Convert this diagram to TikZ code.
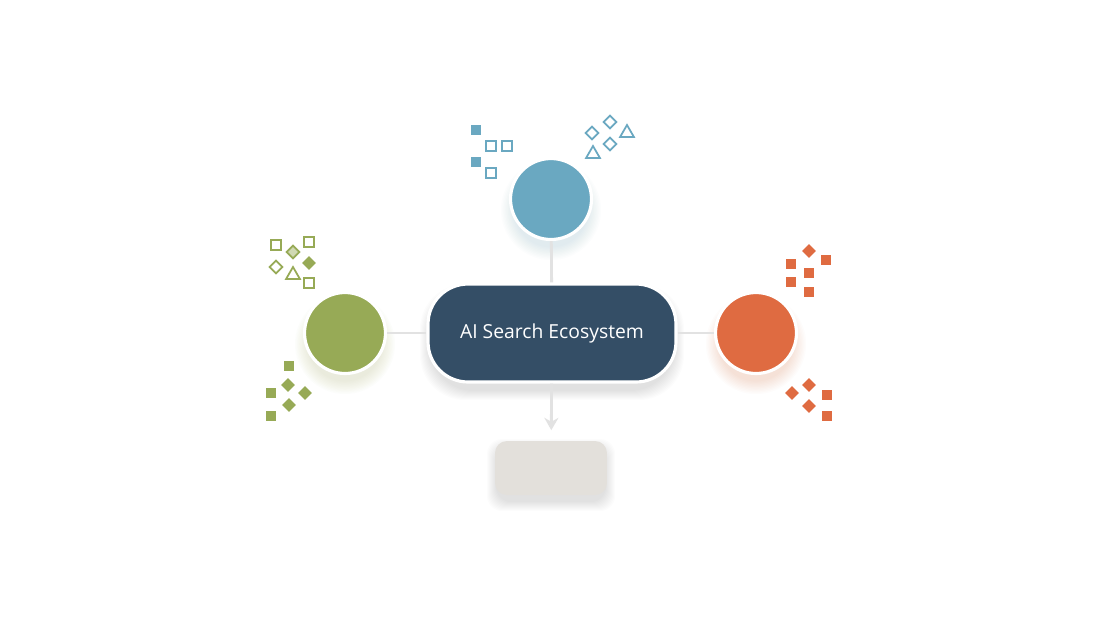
\documentclass[tikz,border=0pt]{standalone}
\usepackage{fontspec}
\newfontfamily\hubfont{Open Sans}
\usetikzlibrary{arrows.meta,shapes.geometric}
\definecolor{hubblue}{HTML}{344E66}
\definecolor{tealc}{HTML}{6AA8C1}
\definecolor{greenc}{HTML}{97AA56}
\definecolor{orangec}{HTML}{DF6B41}
\definecolor{stonec}{HTML}{E3E0DB}
\definecolor{linkc}{HTML}{E2E2E2}
\begin{document}
\begin{tikzpicture}[x=0.02cm,y=-0.02cm,
  hub/.style={draw=white,line width=1.8pt,fill=hubblue,rounded corners=0.8cm,minimum width=4.96cm,minimum height=1.96cm,text=white,font=\hubfont\fontsize{11}{13}\selectfont},
  topic/.style={circle,draw=white,line width=1.8pt,fill=#1,minimum size=1.62cm},
  outbox/.style={fill=stonec,rounded corners=0.24cm,minimum width=2.24cm,minimum height=1.08cm},
  link/.style={draw=linkc,line width=1.6pt},
  sqf/.style={rectangle,fill=#1,minimum size=0.2cm,inner sep=0pt},
  sqo/.style={rectangle,draw=#1,fill=white,line width=1pt,minimum size=0.2cm,inner sep=0pt},
  dmf/.style={diamond,fill=#1,minimum size=0.28cm,inner sep=0pt},
  dmo/.style={diamond,draw=#1,fill=white,line width=1pt,minimum size=0.27cm,inner sep=0pt},
  tro/.style={regular polygon,regular polygon sides=3,draw=#1,fill=white,line width=1pt,minimum size=0.32cm,inner sep=0pt}]
\fill[white] (0,0) rectangle (1102,630);
\useasboundingbox (0,0) rectangle (1102,630);
% soft shadows
\foreach \r in {1,...,10} {
  \fill[black,opacity=0.012,rounded corners=0.9cm] (430-\r,294-\r) rectangle (674+\r,390+\r);
  \fill[black,opacity=0.01,rounded corners=0.3cm] (497-\r,449-\r) rectangle (605+\r,501+\r);
  \fill[tealc,opacity=0.018] (551,210) circle[radius={36+1.4*\r}];
  \fill[greenc,opacity=0.018] (345,344) circle[radius={36+1.4*\r}];
  \fill[orangec,opacity=0.018] (756,344) circle[radius={36+1.4*\r}];
}
\node[hub] (hub) at (552,333) {AI Search Ecosystem};
\node[topic=tealc] (teal) at (551,199) {};
\node[topic=greenc] (green) at (345,333) {};
\node[topic=orangec] (orange) at (756,333) {};
\node[outbox] (out) at (551,468) {};
\draw[link] (teal) -- (hub);
\draw[link] (green) -- (hub);
\draw[link] (hub) -- (orange);
\draw[link,-{Stealth[length=7pt,width=8pt]},shorten >=6pt] (hub) -- (out);
% marks round the teal circle
\foreach \x/\y [count=\i] in {476/130,476/162} \node[sqf=tealc] (tsf\i) at (\x,\y) {};
\foreach \x/\y [count=\i] in {491/146,507/146,491/173} \node[sqo=tealc] (tso\i) at (\x,\y) {};
\foreach \x/\y [count=\i] in {592/133,610/122,610/144} \node[dmo=tealc] (tdo\i) at (\x,\y) {};
\foreach \x/\y [count=\i] in {627/133,593/154} \node[tro=tealc] (tto\i) at (\x,\y) {};
% marks round the green circle
\foreach \x/\y [count=\i] in {276/245,309/242,309/283} \node[sqo=greenc] (gso\i) at (\x,\y) {};
\node[dmo=greenc,fill=greenc!45] (gdl) at (293,252) {};
\node[dmo=greenc] (gdo) at (276,267) {};
\node[tro=greenc] (gto) at (293,275) {};
\foreach \x/\y [count=\i] in {309/263,288/385,305/393,289/405} \node[dmf=greenc] (gdf\i) at (\x,\y) {};
\foreach \x/\y [count=\i] in {289/366,271/393,271/416} \node[sqf=greenc] (gsf\i) at (\x,\y) {};
% marks round the orange circle
\foreach \x/\y [count=\i] in {809/251,809/385,792/393,809/406} \node[dmf=orangec] (odf\i) at (\x,\y) {};
\foreach \x/\y [count=\i] in {826/260,791/264,809/273,791/282,809/292,827/395,827/416} \node[sqf=orangec] (osf\i) at (\x,\y) {};
\end{tikzpicture}
\end{document}
